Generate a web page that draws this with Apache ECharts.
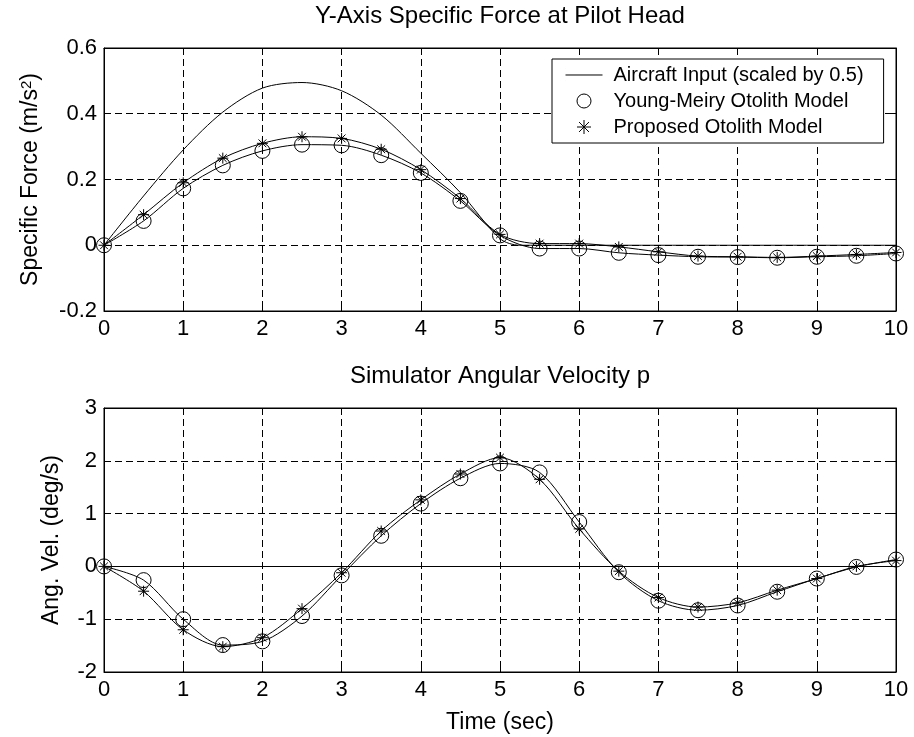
<!DOCTYPE html>
<html>
<head>
<meta charset="utf-8">
<script src="https://cdn.jsdelivr.net/npm/echarts@6/dist/echarts.min.js"></script>
<style>
  html, body { margin: 0; padding: 0; background: #fff; }
  #chart { width: 914px; height: 737px; }
</style>
</head>
<body>
<div id="chart"></div>
<script>
// sample times of the model outputs (markers every 0.5 s)
const times = [0, 0.5, 1, 1.5, 2, 2.5, 3, 3.5, 4, 4.5, 5, 5.5, 6, 6.5, 7, 7.5, 8, 8.5, 9, 9.5, 10];

// top plot: specific force (m/s^2)
const inputTimes = [0, 0.5, 1, 1.5, 2, 2.5, 3, 3.5, 4, 4.5, 5, 5.25, 10];
const inputForce = [0, 0.15, 0.29, 0.405, 0.478, 0.495, 0.47, 0.396, 0.28, 0.16, 0.02, 0, 0];
const youngForce = [0, 0.074, 0.173, 0.243, 0.287, 0.306, 0.304, 0.274, 0.22, 0.135, 0.03,
  -0.01, -0.01, -0.023, -0.03, -0.035, -0.036, -0.038, -0.035, -0.032, -0.025];
const proposedForce = [0, 0.093, 0.19, 0.265, 0.31, 0.33, 0.325, 0.292, 0.23, 0.142, 0.033,
  0.005, 0.005, -0.005, -0.02, -0.033, -0.035, -0.037, -0.033, -0.028, -0.022];

// bottom plot: simulator angular velocity p (deg/s)
const youngVel = [0, -0.26, -1.0, -1.49, -1.42, -0.94, -0.17, 0.58, 1.19, 1.67, 1.95,
  1.78, 0.84, -0.11, -0.65, -0.83, -0.74, -0.48, -0.23, -0.01, 0.13];
const proposedVel = [0, -0.47, -1.2, -1.52, -1.35, -0.8, -0.12, 0.67, 1.26, 1.75, 2.06,
  1.65, 0.71, -0.09, -0.59, -0.77, -0.69, -0.45, -0.23, 0.0, 0.11];

const xTicks = [0, 10, 1];
const forceTicks = [-0.2, 0.6, 0.2];
const velTicks = [-2, 3, 1];

const names = ["Aircraft Input (scaled by 0.5)", "Young-Meiry Otolith Model", "Proposed Otolith Model"];

const FONT = "'Liberation Sans', Arial, sans-serif";
const STAR = "path://M5,0L5,10M0,5L10,5M1.46,1.46L8.54,8.54M8.54,1.46L1.46,8.54";
const DASH = "path://M0,0L0,0.01M0,6L37,6M0,12L0,12.01";

const zip = (xs, ys) => xs.map((x, i) => [x, ys[i]]);

const lineStyle = { color: "#000", width: 1 };
const circleStyle = { color: "rgba(0,0,0,0)", borderColor: "#000", borderWidth: 1 };
const starStyle = { color: "none", borderColor: "#000", borderWidth: 1 };

const xAxisFor = (grid, bottom) => ({
  type: "value",
  gridIndex: grid,
  position: bottom ? "bottom" : "top",
  min: xTicks[0],
  max: xTicks[1],
  interval: xTicks[2],
  axisLine: { show: true, onZero: false, lineStyle: { color: "#000" } },
  axisTick: { show: true, inside: true, length: 5, lineStyle: { color: "#000" } },
  axisLabel: { show: bottom, color: "#000", fontSize: 22, fontFamily: FONT, margin: 7 },
  splitLine: { show: bottom, lineStyle: { color: "#000", type: [7, 4], width: 1 } }
});

const yAxisFor = (grid, ticks, left, name, gap) => ({
  type: "value",
  gridIndex: grid,
  position: left ? "left" : "right",
  min: ticks[0],
  max: ticks[1],
  interval: ticks[2],
  name: left ? name : "",
  nameLocation: "middle",
  nameGap: gap,
  nameTextStyle: {
    color: "#000", fontSize: 23, fontFamily: FONT,
    rich: { sup: { fontSize: 15, fontFamily: FONT, color: "#000", verticalAlign: "top", padding: [0, 0, 9, 0] } }
  },
  axisLine: { show: true, onZero: false, lineStyle: { color: "#000" } },
  axisTick: { show: true, inside: true, length: 5, lineStyle: { color: "#000" } },
  axisLabel: {
    show: left, color: "#000", fontSize: 22, fontFamily: FONT, margin: 7,
    formatter: v => String(Math.round(v * 10) / 10)
  },
  splitLine: { show: left, lineStyle: { color: "#000", type: [7, 4], width: 1 } }
});

const chart = echarts.init(document.getElementById("chart"));
chart.setOption({
  animation: false,
  backgroundColor: "#fff",
  textStyle: { fontFamily: FONT },
  title: [
    { text: "Y-Axis Specific Force at Pilot Head", left: 500, top: 4, textAlign: "center", padding: 0,
      textStyle: { fontSize: 24, fontWeight: "normal", color: "#000", fontFamily: FONT } },
    { text: "Simulator Angular Velocity p", left: 500, top: 364, textAlign: "center", padding: 0,
      textStyle: { fontSize: 24, fontWeight: "normal", color: "#000", fontFamily: FONT } }
  ],
  grid: [
    { left: 104, right: 18, top: 48, height: 263, show: true, borderColor: "#000", borderWidth: 1 },
    { left: 104, right: 18, top: 408, height: 264, show: true, borderColor: "#000", borderWidth: 1 }
  ],
  legend: {
    left: 552,
    top: 59,
    orient: "vertical",
    backgroundColor: "#fff",
    borderColor: "#000",
    borderWidth: 1,
    borderRadius: 0,
    padding: [6, 20, 6, 11],
    itemWidth: 37,
    itemHeight: 14,
    itemGap: 6,
    selectedMode: false,
    textStyle: { color: "#000", fontSize: 20, fontFamily: FONT, lineHeight: 20, padding: [0, 0, 0, 6] },
    data: [
      { name: names[0], icon: DASH, itemStyle: starStyle },
      { name: names[1], icon: "circle", itemStyle: circleStyle },
      { name: names[2], icon: STAR, itemStyle: starStyle }
    ]
  },
  xAxis: [xAxisFor(0, true), xAxisFor(0, false), xAxisFor(1, true), xAxisFor(1, false)].map((a, i) => {
    if (i === 2) {
      a.name = "Time (sec)";
      a.nameLocation = "middle";
      a.nameGap = 39;
      a.nameTextStyle = { color: "#000", fontSize: 23, fontFamily: FONT };
    }
    return a;
  }),
  yAxis: [
    yAxisFor(0, forceTicks, true, "Specific Force (m/s{sup|2})", 61),
    yAxisFor(0, forceTicks, false, "", 0),
    yAxisFor(1, velTicks, true, "Ang. Vel. (deg/s)", 41),
    yAxisFor(1, velTicks, false, "", 0)
  ],
  series: [
    {
      name: names[0], type: "line", xAxisIndex: 0, yAxisIndex: 0,
      data: zip(inputTimes, inputForce), symbol: "none", smooth: 0.3,
      lineStyle: lineStyle, itemStyle: { color: "#000" }, silent: true, z: 3
    },
    {
      name: names[1], type: "line", xAxisIndex: 0, yAxisIndex: 0,
      data: zip(times, youngForce), symbol: "circle", symbolSize: 15, smooth: 0.3,
      lineStyle: lineStyle, itemStyle: circleStyle, silent: true, z: 3
    },
    {
      name: names[2], type: "line", xAxisIndex: 0, yAxisIndex: 0,
      data: zip(times, proposedForce), symbol: STAR, symbolSize: 11, smooth: 0.3,
      lineStyle: lineStyle, itemStyle: starStyle, silent: true, z: 3
    },
    {
      name: names[1], type: "line", xAxisIndex: 2, yAxisIndex: 2,
      data: zip(times, youngVel), symbol: "circle", symbolSize: 15, smooth: 0.3,
      lineStyle: lineStyle, itemStyle: circleStyle, silent: true, z: 3,
      markLine: {
        silent: true, symbol: "none", label: { show: false },
        lineStyle: { color: "#000", type: "solid", width: 1 },
        data: [{ yAxis: 0 }]
      }
    },
    {
      name: names[2], type: "line", xAxisIndex: 2, yAxisIndex: 2,
      data: zip(times, proposedVel), symbol: STAR, symbolSize: 11, smooth: 0.3,
      lineStyle: lineStyle, itemStyle: starStyle, silent: true, z: 3
    }
  ]
});
</script>
</body>
</html>
